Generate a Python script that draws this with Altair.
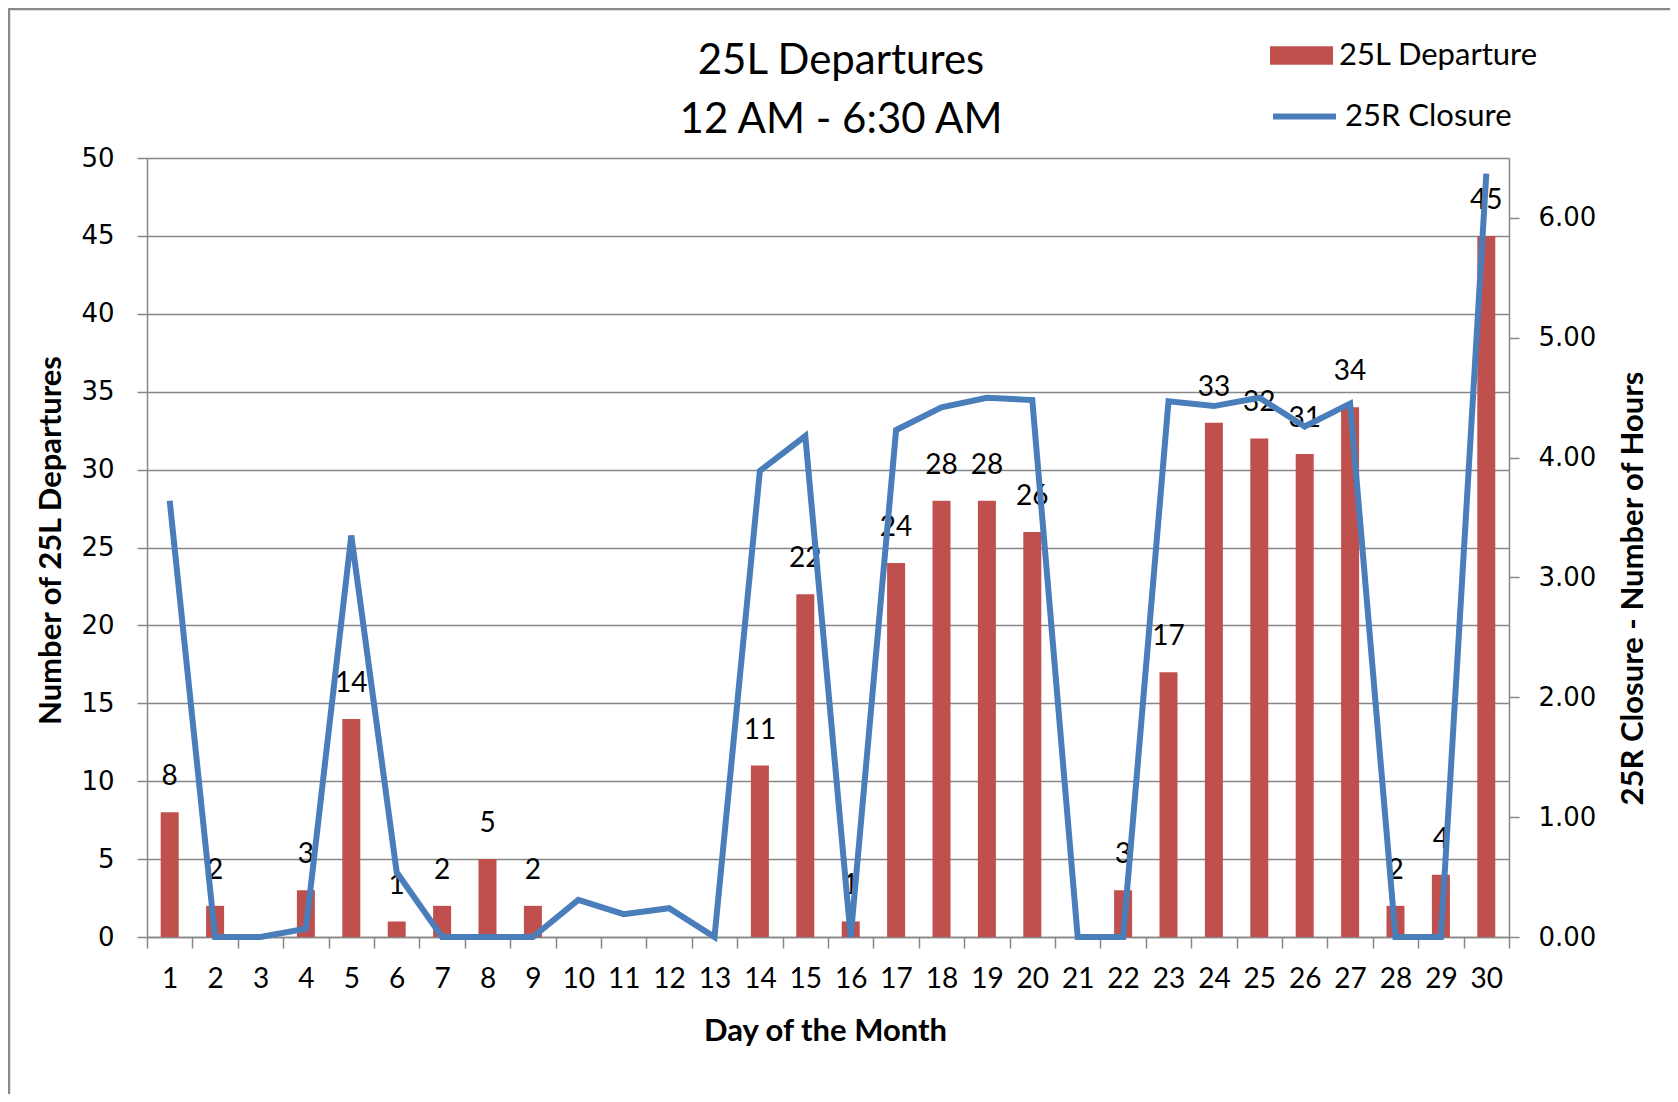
import altair as alt
import pandas as pd

days = list(range(1, 31))
departures = [8, 2, 0, 3, 14, 1, 2, 5, 2, 0, 0, 0, 0, 11, 22, 1, 24, 28, 28, 26,
              0, 3, 17, 33, 32, 31, 34, 2, 4, 45]
closure_hours = [3.64, 0, 0, 0.07, 3.35, 0.54, 0, 0, 0, 0.31, 0.19, 0.24, 0, 3.89, 4.18,
                 0, 4.23, 4.42, 4.50, 4.48, 0, 0, 4.47, 4.43, 4.50, 4.26, 4.45, 0, 0, 6.37]
left_ticks = list(range(0, 51, 5))
right_ticks = [0, 1, 2, 3, 4, 5, 6]

df = pd.DataFrame({
    "day": days,
    "dep": departures,
    "hours": closure_hours,
    "label": [str(v) if v > 0 else "" for v in departures],
    "bar_series": "25L Departure",
    "line_series": "25R Closure",
})

W, H = 1362, 779
GRID = "#878787"
FONT = "Lato"
NUMFONT = "DejaVu Sans"

x_enc = alt.X(
    "day:O",
    scale=alt.Scale(paddingInner=0, paddingOuter=0),
    axis=alt.Axis(
        title="Day of the Month", labelAngle=0, tickBand="extent",
        tickSize=11, tickColor=GRID, tickWidth=1.5, domainColor=GRID, domainWidth=1.5,
        labelFont=FONT, labelFontSize=28, labelColor="black", labelBaseline="middle",
        labelPadding=31, titleFont=FONT, titleFontSize=31, titleFontWeight="bold",
        titleColor="black", titleBaseline="middle", titleY=94, titleX=678,
    ),
)

y_left = alt.Y(
    "dep:Q",
    scale=alt.Scale(domain=[0, 50], nice=False),
    axis=alt.Axis(
        values=left_ticks, title="Number of 25L Departures", grid=True,
        gridColor=GRID, gridWidth=1.5, tickSize=10, tickColor=GRID, tickWidth=1.5,
        domainColor=GRID, domainWidth=1.5, labelFont=NUMFONT, labelFontSize=26,
        labelColor="black", labelPadding=23, titleFont=FONT, titleFontSize=31,
        titleFontWeight="bold", titleColor="black", titleX=-96, titleY=382,
        titleBaseline="middle", titleAlign="center", titleAngle=270,
    ),
)

bars = alt.Chart(df).mark_bar(size=18).encode(
    x=x_enc,
    y=y_left,
    color=alt.Color(
        "bar_series:N",
        scale=alt.Scale(range=["#C0504D"]),
        legend=alt.Legend(
            title=None, orient="none", legendX=1123, legendY=-134,
            symbolType="M-1,-0.29L1,-0.29L1,0.29L-1,0.29Z", symbolSize=3969,
            symbolStrokeWidth=0, symbolOpacity=1, labelFont=FONT, labelFontSize=31,
            labelColor="black", labelOffset=6, labelLimit=400, padding=0,
        ),
    ),
)

text = alt.Chart(df).mark_text(
    font=FONT, fontSize=28, color="black", baseline="middle", dy=-35
).encode(x=x_enc, y=y_left, text="label:N")

line = alt.Chart(df).mark_line(strokeWidth=6).encode(
    x=x_enc,
    y=alt.Y(
        "hours:Q",
        scale=alt.Scale(domain=[0, 6.5], nice=False),
        axis=alt.Axis(
            orient="right", values=right_ticks, format=".2f", grid=False,
            title="25R Closure - Number of Hours", tickSize=10, tickColor=GRID,
            tickWidth=1.5, domainColor=GRID, domainWidth=1.5, labelFont=NUMFONT,
            labelFontSize=26, labelColor="black", labelPadding=19, titleFont=FONT,
            titleFontSize=31, titleFontWeight="bold", titleColor="black",
            titleX=124, titleY=430, titleBaseline="middle", titleAlign="center",
            titleAngle=270,
        ),
    ),
    stroke=alt.Stroke(
        "line_series:N",
        scale=alt.Scale(range=["#4A7EBB"]),
        legend=alt.Legend(
            title=None, orient="none", legendX=1123, legendY=-76,
            symbolType="stroke", symbolSize=3969, symbolStrokeWidth=6,
            labelFont=FONT, labelFontSize=31, labelColor="black", labelOffset=6,
            labelLimit=400, padding=0,
        ),
    ),
)

frame = alt.Chart(pd.DataFrame({"k": [0]})).mark_rect(
    fill="transparent", stroke="#8a8a8a", strokeWidth=2.5
).encode(
    x=alt.value(-138), x2=alt.value(W + 200),
    y=alt.value(-149), y2=alt.value(H + 300),
)

chart = alt.layer(
    frame, alt.layer(bars, text), line
).resolve_scale(
    y="independent", color="independent", stroke="independent"
).properties(
    width=W, height=H,
    autosize=alt.AutoSizeParams(type="none"),
    padding={"left": 139, "top": 150, "right": 161, "bottom": 157},
    title=alt.TitleParams(
        text=["25L Departures", "12 AM - 6:30 AM"], font=FONT, fontSize=42,
        fontWeight="normal", color="black", lineHeight=59, anchor="middle",
        frame="group", baseline="alphabetic", dx=13, offset=0, dy=167,
    ),
).configure_view(strokeWidth=0).configure(background="white")

chart.save("out.html", embed_options={"renderer": "svg", "actions": False})
